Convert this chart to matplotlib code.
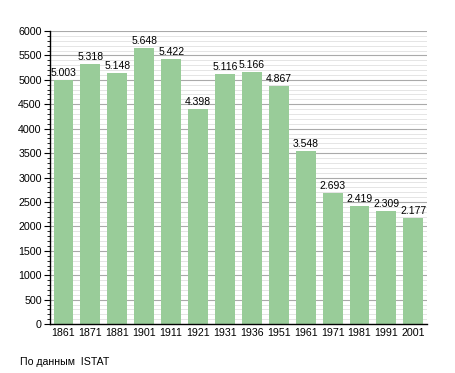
import matplotlib.pyplot as plt
from matplotlib.ticker import MultipleLocator

YEARS = ['1861', '1871', '1881', '1901', '1911', '1921', '1931',
         '1936', '1951', '1961', '1971', '1981', '1991', '2001']
POP = [5003, 5318, 5148, 5648, 5422, 4398, 5116,
       5166, 4867, 3548, 2693, 2419, 2309, 2177]

plt.rcParams['font.family'] = ['Liberation Sans', 'DejaVu Sans']

fig = plt.figure(figsize=(4.55, 3.73), dpi=100)
ax = fig.add_axes([0.11, 0.131, 0.828, 0.786])

x = range(len(YEARS))
ax.bar(x, POP, width=0.74, color='#99cc99', zorder=2)
for i, v in enumerate(POP):
    ax.text(i, v + 40, '{:,}'.format(v).replace(',', '.'), ha='center', va='bottom',
            fontsize=7.5, zorder=3)

ax.set_xlim(-0.5, len(YEARS) - 0.5)
ax.set_ylim(0, 6000)
ax.set_xticks(list(x))
ax.set_xticklabels(YEARS, fontsize=7.7)
ax.yaxis.set_major_locator(MultipleLocator(500))
ax.yaxis.set_minor_locator(MultipleLocator(100))
ax.tick_params(axis='y', labelsize=7.7, length=4, width=0.8, pad=2)
ax.tick_params(axis='y', which='minor', length=2, width=0.6)
ax.tick_params(axis='x', length=0, pad=3)

ax.grid(axis='y', which='major', color='#aaaaaa', lw=0.8, zorder=0)
ax.grid(axis='y', which='minor', color='#e0e0e0', lw=0.6, zorder=0)
ax.set_axisbelow(True)

for s in ['top', 'right']:
    ax.spines[s].set_visible(False)
ax.spines['left'].set_linewidth(1.0)
ax.spines['bottom'].set_linewidth(1.0)

fig.text(20 / 455, 1 - 362 / 373, 'По данным  ISTAT', fontsize=7.6, va='center')

fig.savefig('out.png', dpi=100)
